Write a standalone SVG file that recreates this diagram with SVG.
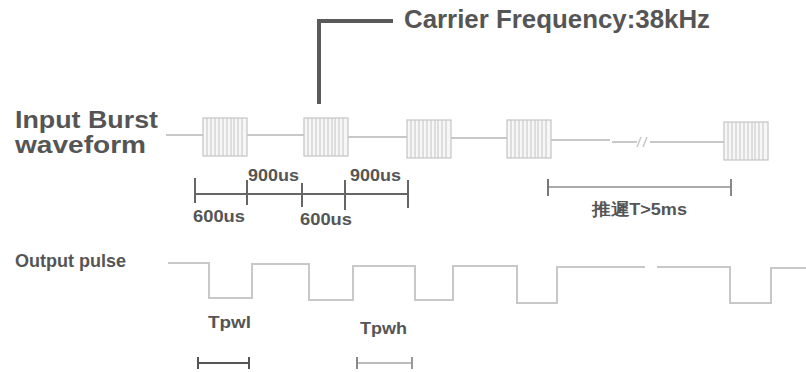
<svg xmlns="http://www.w3.org/2000/svg" width="806" height="372" viewBox="0 0 806 372">
<style>
.t{font-family:"Liberation Sans",Arial,sans-serif;font-weight:bold;fill:#555}
.wave{fill:none;stroke:#c8c8c8;stroke-width:2}
.bl{stroke:#c4c4c4;stroke-width:1}
.dim{stroke:#666;stroke-width:2;fill:none}
</style>
<defs>
<g id="burst">
<rect x="0" y="0" width="44" height="38" fill="#f7f7f7" stroke="#c4c4c4" stroke-width="1.2"/>
<g class="bl">
<line x1="4" y1="0" x2="4" y2="38"/>
<line x1="8" y1="0" x2="8" y2="38"/>
<line x1="12" y1="0" x2="12" y2="38"/>
<line x1="16" y1="0" x2="16" y2="38"/>
<line x1="20" y1="0" x2="20" y2="38"/>
<line x1="24" y1="0" x2="24" y2="38"/>
<line x1="28" y1="0" x2="28" y2="38"/>
<line x1="31" y1="0" x2="31" y2="38"/>
<line x1="35" y1="0" x2="35" y2="38"/>
<line x1="39" y1="0" x2="39" y2="38"/>
</g>
</g>
</defs>

<g id="labels">
<text class="t" x="15" y="128" font-size="23" textLength="143" lengthAdjust="spacingAndGlyphs">Input Burst</text>
<text class="t" x="15" y="153" font-size="23" textLength="131" lengthAdjust="spacingAndGlyphs">waveform</text>
<text class="t" x="15" y="267" font-size="18">Output pulse</text>
</g>

<g id="carrier">
<polyline points="319,104 319,21 393,21" fill="none" stroke="#5a5a5a" stroke-width="4"/>
<text class="t" x="404" y="28" font-size="25.5" textLength="306" lengthAdjust="spacingAndGlyphs">Carrier Frequency:38kHz</text>
</g>

<g id="input-wave">
<polyline class="wave" points="166,135 203,135"/>
<polyline class="wave" points="247,135 304,135"/>
<polyline class="wave" points="348,137 407,137"/>
<polyline class="wave" points="451,138 507,138"/>
<polyline class="wave" points="551,140 610,140"/>
<polyline class="wave" points="612,142 637,142"/>
<line x1="637" y1="147" x2="641" y2="137" stroke="#c8c8c8" stroke-width="1.5"/>
<line x1="643" y1="147" x2="647" y2="137" stroke="#c8c8c8" stroke-width="1.5"/>
<polyline class="wave" points="650,142 724,142"/>
<use href="#burst" x="203" y="118"/>
<use href="#burst" x="304" y="118"/>
<use href="#burst" x="407" y="120"/>
<use href="#burst" x="507" y="120"/>
<use href="#burst" x="724" y="122"/>
</g>

<g id="timing">
<line class="dim" x1="195" y1="194" x2="408" y2="194"/>
<line class="dim" x1="195" y1="178" x2="195" y2="203"/>
<line class="dim" x1="247" y1="180" x2="247" y2="205"/>
<line class="dim" x1="302" y1="183" x2="302" y2="207"/>
<line class="dim" x1="345" y1="180" x2="345" y2="210"/>
<line class="dim" x1="408" y1="180" x2="408" y2="208"/>
<text class="t" x="248" y="181" font-size="16.5" textLength="51" lengthAdjust="spacingAndGlyphs">900us</text>
<text class="t" x="350" y="181" font-size="16.5" textLength="51" lengthAdjust="spacingAndGlyphs">900us</text>
<text class="t" x="193" y="222" font-size="16.5" textLength="52" lengthAdjust="spacingAndGlyphs">600us</text>
<text class="t" x="300" y="225" font-size="16.5" textLength="52" lengthAdjust="spacingAndGlyphs">600us</text>
</g>

<g id="gap">
<line x1="548" y1="187" x2="731" y2="187" stroke="#aaa" stroke-width="2"/>
<line x1="548" y1="179" x2="548" y2="196" stroke="#777" stroke-width="2"/>
<line x1="731" y1="179" x2="731" y2="196" stroke="#888" stroke-width="2"/>
<text class="t" x="592" y="215" font-size="16.5" font-family="'Liberation Sans','Noto Sans CJK TC',sans-serif" textLength="95" lengthAdjust="spacingAndGlyphs">推遲T&gt;5ms</text>
</g>

<g id="output-wave">
<polyline class="wave" points="168,263 209,263 209,298 252,298 252,264 309,264 309,300 353,300 353,266 415,266 415,300 453,300 453,266 517,266 517,303 557,303 557,267 645,267"/>
<polyline class="wave" points="657,267 730,267 730,303 771,303 771,268 806,268"/>
</g>

<g id="pulse-widths">
<text class="t" x="208" y="328" font-size="16.5" textLength="43" lengthAdjust="spacingAndGlyphs">Tpwl</text>
<line x1="198" y1="363" x2="249" y2="363" stroke="#555" stroke-width="2"/>
<line x1="198" y1="357" x2="198" y2="369" stroke="#555" stroke-width="2"/>
<line x1="249" y1="357" x2="249" y2="369" stroke="#555" stroke-width="2"/>
<text class="t" x="360" y="334" font-size="16.5" textLength="47" lengthAdjust="spacingAndGlyphs">Tpwh</text>
<line x1="357" y1="363" x2="412" y2="363" stroke="#bbb" stroke-width="2"/>
<line x1="357" y1="357" x2="357" y2="369" stroke="#888" stroke-width="2"/>
<line x1="412" y1="357" x2="412" y2="369" stroke="#999" stroke-width="2"/>
</g>
</svg>
